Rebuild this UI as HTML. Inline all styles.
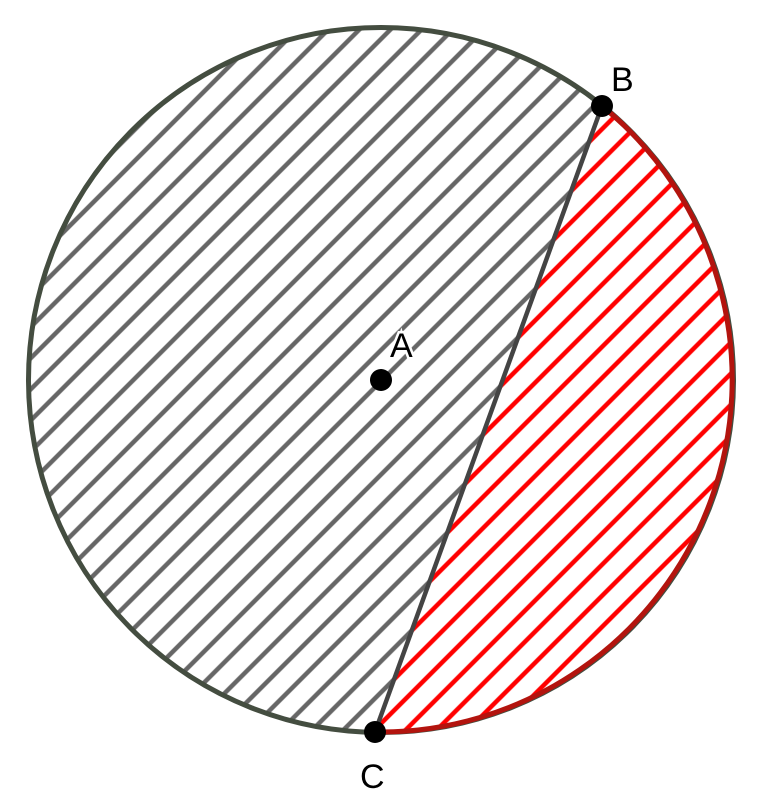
<!DOCTYPE html>
<html><head><meta charset="utf-8"><style>html,body{margin:0;padding:0;background:#fff;width:761px;height:806px;overflow:hidden}</style></head>
<body>
<svg width="761" height="806" viewBox="0 0 761 806" xmlns="http://www.w3.org/2000/svg">
<defs>
<pattern id="hg" patternUnits="userSpaceOnUse" width="22" height="22" patternTransform="rotate(45)">
<line x1="11" y1="-5" x2="11" y2="27" stroke="#666" stroke-width="4.5"/>
</pattern>
<pattern id="hr" patternUnits="userSpaceOnUse" width="22" height="22" patternTransform="rotate(45)">
<line x1="11" y1="-5" x2="11" y2="27" stroke="#ff0000" stroke-width="4.5"/>
</pattern>
</defs>
<path d="M602 106 A352.5 352.5 0 1 0 375 732 Z" fill="url(#hg)"/>
<path d="M602 106 A352.5 352.5 0 0 1 375 732 Z" fill="url(#hr)"/>
<circle cx="381" cy="380" r="352.5" fill="none" stroke="#444d40" stroke-width="5"/>
<path d="M602 106 A352.5 352.5 0 0 1 375 732" fill="none" stroke="#b3140e" stroke-width="5"/>
<line x1="602" y1="106" x2="375" y2="732" stroke="#444" stroke-width="4.5"/>
<g font-family="Liberation Sans, sans-serif" font-size="34" fill="#000" stroke="#fff" stroke-width="5" paint-order="stroke">
<text x="390" y="357">A</text>
<text x="611" y="91">B</text>
<text x="360" y="788">C</text>
</g>
<circle cx="381" cy="380" r="11" fill="#000"/>
<circle cx="602" cy="106" r="11" fill="#000"/>
<circle cx="375" cy="732" r="11" fill="#000"/>
</svg>
</body></html>
